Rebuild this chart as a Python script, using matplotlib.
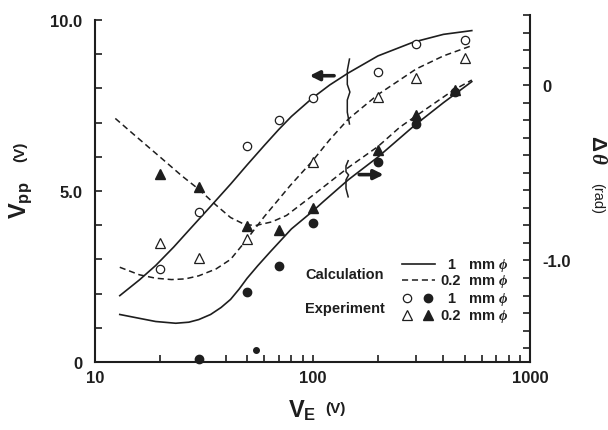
import numpy as np
import matplotlib
matplotlib.use("Agg")
import matplotlib.pyplot as plt
from matplotlib.ticker import LogLocator, NullFormatter, FixedLocator, MultipleLocator

plt.rcParams['font.family'] = ['Liberation Sans', 'DejaVu Sans']
plt.rcParams['font.weight'] = 'bold'
plt.rcParams['mathtext.fontset'] = 'custom'
plt.rcParams['mathtext.rm'] = 'Liberation Sans'
plt.rcParams['mathtext.bf'] = 'Liberation Sans:bold'
plt.rcParams['mathtext.it'] = 'Liberation Serif:italic'

INK = '#1e1e1e'

# calculation curves, Vpp (left axis, V)
calc_vpp_1_x = [13, 16, 19, 23, 27, 34, 42, 50, 60, 70, 80, 100, 120, 146, 200, 290, 400, 540]
calc_vpp_1_y = [1.94, 2.4, 2.82, 3.36, 3.85, 4.55, 5.2, 5.76, 6.33, 6.8, 7.18, 7.72, 8.1, 8.45, 8.95, 9.35, 9.58, 9.69]
calc_vpp_02_x = [13, 16, 19, 22.5, 26, 30, 36, 42, 48, 60, 79, 100, 120, 146, 200, 300, 400, 540]
calc_vpp_02_y = [2.77, 2.55, 2.45, 2.41, 2.43, 2.52, 2.72, 3.0, 3.45, 4.25, 5.16, 5.88, 6.5, 7.1, 7.82, 8.57, 8.95, 9.25]

# calculation curves, delta theta (right axis, rad)
calc_dth_1_x = [13, 16, 19, 23.5, 27, 30, 34, 38, 42, 46, 50, 56, 64, 80, 100, 112, 146, 200, 295, 400, 540]
calc_dth_1_y = [-1.308, -1.33, -1.348, -1.358, -1.352, -1.337, -1.308, -1.268, -1.222, -1.163, -1.102, -1.03, -0.95, -0.82, -0.72, -0.665, -0.54, -0.41, -0.229, -0.1, 0.02]
calc_dth_02_x = [12.4, 15, 20, 25, 30, 36, 42, 49, 55, 65, 76, 100, 146, 200, 252, 295, 444, 540]
calc_dth_02_y = [-0.19, -0.279, -0.412, -0.516, -0.594, -0.684, -0.755, -0.796, -0.8, -0.78, -0.743, -0.63, -0.47, -0.35, -0.24, -0.181, -0.029, 0.029]

# experiment
exp_vpp_1_x = [20, 30, 50, 70, 100, 200, 300, 500]
exp_vpp_1_y = [2.72, 4.38, 6.33, 7.08, 7.71, 8.49, 9.31, 9.42]
exp_vpp_02_x = [20, 30, 50, 100, 200, 300, 500]
exp_vpp_02_y = [3.47, 3.05, 3.6, 5.84, 7.76, 8.29, 8.89]
exp_dth_1_x = [30, 50, 70, 100, 200, 300, 450]
exp_dth_1_y = [-1.56, -1.177, -1.03, -0.785, -0.438, -0.219, -0.04]
exp_dth_1_small_x = [55]
exp_dth_1_small_y = [-1.51]
exp_dth_02_x = [20, 30, 50, 70, 100, 200, 300, 450]
exp_dth_02_y = [-0.509, -0.58, -0.806, -0.829, -0.70, -0.371, -0.171, -0.03]

fig = plt.figure(figsize=(6.08, 4.31), dpi=100)
ax = fig.add_axes([95 / 608, (431 - 363) / 431, 435 / 608, 347 / 431])
ax2 = ax.twinx()

dash = (0, (4.0, 2.5))
ax.plot(calc_vpp_1_x, calc_vpp_1_y, color=INK, lw=1.2)
ax.plot(calc_vpp_02_x, calc_vpp_02_y, color=INK, lw=1.1, linestyle=dash)
ax2.plot(calc_dth_1_x, calc_dth_1_y, color=INK, lw=1.2)
ax2.plot(calc_dth_02_x, calc_dth_02_y, color=INK, lw=1.1, linestyle=dash)

ax.plot(exp_vpp_1_x, exp_vpp_1_y, 'o', ms=6, mfc='white', mec=INK, mew=0.9)
ax.plot(exp_vpp_02_x, exp_vpp_02_y, '^', ms=6.5, mfc='white', mec=INK, mew=0.9)
ax2.plot(exp_dth_1_x, exp_dth_1_y, 'o', ms=6, color=INK, clip_on=False)
ax2.plot(exp_dth_1_small_x, exp_dth_1_small_y, 'o', ms=4, color=INK)
ax2.plot(exp_dth_02_x, exp_dth_02_y, '^', ms=6.5, color=INK)

ax.set_xscale('log')
ax.set_xlim(10, 1000)
ax.set_ylim(0, 10.146)
ax2.set_ylim(-1.579, 0.40)

ax.xaxis.set_major_locator(FixedLocator([10, 100, 1000]))
ax.set_xticklabels(['10', '100', '1000'])
ax.xaxis.set_minor_locator(LogLocator(base=10, subs=np.arange(2, 10)))
ax.xaxis.set_minor_formatter(NullFormatter())

ax.yaxis.set_major_locator(FixedLocator([0, 5, 10]))
ax.set_yticklabels(['0', '5.0', '10.0'])
ax.yaxis.set_minor_locator(MultipleLocator(1))
ax2.yaxis.set_major_locator(FixedLocator([-1.0, 0.0]))
ax2.set_yticklabels(['-1.0', '0'])
ax2.yaxis.set_minor_locator(FixedLocator(np.round(np.arange(-1.5, 0.45, 0.1), 2)))

for a in (ax, ax2):
    a.tick_params(which='both', direction='in', length=5, width=1.2, color=INK,
                  labelsize=12, labelcolor=INK)
    a.spines['top'].set_visible(False)
    for s in a.spines.values():
        s.set_linewidth(1.5)
        s.set_color(INK)
ax.tick_params(axis='x', which='both', top=False, pad=6)
ax.tick_params(axis='y', which='both', right=False, pad=9)
ax2.tick_params(axis='y', which='both', left=False, pad=9)
ax.spines['right'].set_visible(False)
ax.spines['left'].set_bounds(0, 10)
ax2.spines['left'].set_visible(False)
ax2.spines['bottom'].set_visible(False)

# axis titles
fig.text(21 / 608, 1 - 200 / 431, r'$\mathbf{V}_{\mathbf{pp}}$', rotation=90,
         ha='center', va='center', fontsize=17, color=INK)
fig.text(20 / 608, 1 - 152 / 431, '(V)', rotation=90, ha='center', va='center',
         fontsize=11, color=INK)
fig.text(302 / 608, 1 - 411 / 431, r'$\mathbf{V}_{\mathbf{E}}$', ha='center',
         va='center', fontsize=17, color=INK)
fig.text(335 / 608, 1 - 409 / 431, '(V)', ha='center', va='center', fontsize=11,
         color=INK)
fig.text(597 / 608, 1 - 150 / 431, r'$\Delta\,\theta$', rotation=-90, ha='center',
         va='center', fontsize=15, color=INK)
fig.text(597 / 608, 1 - 199 / 431, '(rad)', rotation=-90, ha='center', va='center',
         fontsize=10.5, fontweight='normal', color=INK)

# direction arrows and curve brackets
ax.annotate('', xy=(0.487, 0.825), xytext=(0.556, 0.825), xycoords='axes fraction',
            arrowprops=dict(arrowstyle='-|>', lw=2.6, color=INK, mutation_scale=14))
ax.annotate('', xy=(0.670, 0.540), xytext=(0.601, 0.540), xycoords='axes fraction',
            arrowprops=dict(arrowstyle='-|>', lw=2.6, color=INK, mutation_scale=14))
br_x = [0.585, 0.580, 0.580, 0.586, 0.580, 0.580, 0.585]
br_top_y = [0.873, 0.84, 0.80, 0.778, 0.755, 0.72, 0.686]
br_low_y = [0.580, 0.565, 0.548, 0.539, 0.525, 0.500, 0.476]
ax.plot(br_x, br_top_y, color=INK, lw=1.1, transform=ax.transAxes)
ax.plot([v - 0.003 for v in br_x], br_low_y, color=INK, lw=1.1, transform=ax.transAxes)

# legend drawn by hand
tr = ax.transAxes
ax.text(0.483, 0.253, 'Calculation', transform=tr, fontsize=10.5, va='center', color=INK)
ax.text(0.483, 0.156, 'Experiment', transform=tr, fontsize=10.5, va='center', color=INK)
ax.plot([0.705, 0.782], [0.282, 0.282], color=INK, lw=1.2, transform=tr)
ax.plot([0.705, 0.782], [0.236, 0.236], color=INK, lw=1.1, linestyle=dash, transform=tr)
ax.plot([0.717], [0.184], 'o', ms=6, mfc='white', mec=INK, mew=0.9, transform=tr)
ax.plot([0.766], [0.184], 'o', ms=6, color=INK, transform=tr)
ax.plot([0.717], [0.135], '^', ms=6.5, mfc='white', mec=INK, mew=0.9, transform=tr)
ax.plot([0.766], [0.135], '^', ms=6.5, color=INK, transform=tr)
for fy, num in [(0.282, '1'), (0.236, '0.2'), (0.184, '1'), (0.135, '0.2')]:
    ax.text(0.818, fy, num, transform=tr, fontsize=10.5, va='center', ha='center', color=INK)
    ax.text(0.857, fy, r'mm $\phi$', transform=tr, fontsize=10.5, va='center', color=INK)

fig.savefig('out.png', dpi=100, facecolor='white')
